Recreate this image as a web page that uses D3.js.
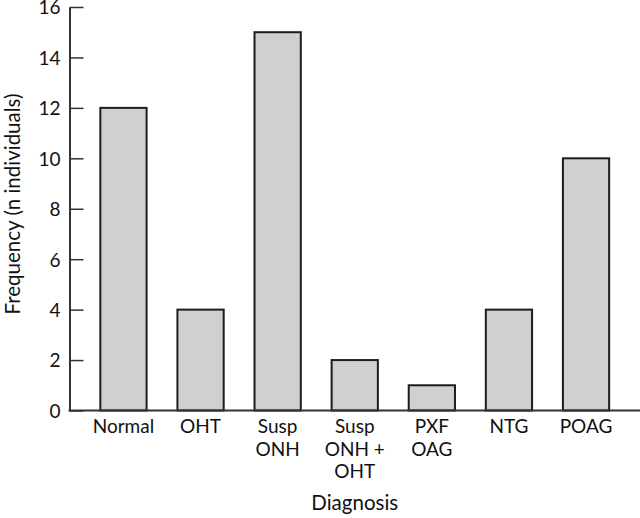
<!DOCTYPE html>
<html>
<head>
<meta charset="utf-8">
<script src="https://cdn.jsdelivr.net/npm/d3@7"></script>
<style>
  body { margin: 0; background: #fff; }
  svg { display: block; font-family: Lato, "Noto Sans", sans-serif; }
</style>
</head>
<body>
<svg id="chart" width="640" height="518"></svg>
<script>
// data
const categories = ["Normal", "OHT", "Susp ONH", "Susp ONH + OHT", "PXF OAG", "NTG", "POAG"];
const labelLines = [["Normal"], ["OHT"], ["Susp", "ONH"], ["Susp", "ONH +", "OHT"], ["PXF", "OAG"], ["NTG"], ["POAG"]];
const counts = [12, 4, 15, 2, 1, 4, 10];
const yTicks = [0, 2, 4, 6, 8, 10, 12, 14, 16];

const svg = d3.select("#chart");
const x0 = 69.5, x1 = 640, yTop = 7, yBottom = 410.5;

const x = d3.scaleBand()
    .domain(categories)
    .range([x0, x1])
    .paddingInner(0.4)
    .paddingOuter(0.4);

const y = d3.scaleLinear()
    .domain([0, 16])
    .range([yBottom, yTop]);

// bars
svg.append("g")
    .selectAll("rect")
    .data(categories)
    .join("rect")
    .attr("x", d => x(d))
    .attr("y", (d, i) => y(counts[i]))
    .attr("width", x.bandwidth())
    .attr("height", (d, i) => yBottom - y(counts[i]))
    .attr("fill", "#d0d0d0")
    .attr("stroke", "#1c1c1c")
    .attr("stroke-width", 2);

// y axis, ticks point into the plot
const yAxis = svg.append("g")
    .attr("transform", "translate(" + x0 + ",0)")
    .call(d3.axisLeft(y).tickValues(yTicks).tickSizeInner(-14).tickSizeOuter(0).tickPadding(9));
yAxis.select(".domain").attr("stroke", "#333").attr("stroke-width", 2);
yAxis.selectAll(".tick line").attr("stroke", "#333").attr("stroke-width", 1.5);
yAxis.selectAll(".tick text")
    .attr("font-size", 19)
    .attr("font-family", "Lato, sans-serif")
    .attr("dy", "0.36em")
    .attr("fill", "#111");

// x axis line
svg.append("line")
    .attr("x1", x0 - 1).attr("x2", x1)
    .attr("y1", yBottom).attr("y2", yBottom)
    .attr("stroke", "#333")
    .attr("stroke-width", 2);

// category labels
const xl = svg.append("g")
    .selectAll("text")
    .data(categories)
    .join("text")
    .attr("x", d => x(d) + x.bandwidth() / 2)
    .attr("y", 433)
    .attr("text-anchor", "middle")
    .attr("font-size", 19)
    .attr("fill", "#111");
xl.selectAll("tspan")
    .data((d, i) => labelLines[i])
    .join("tspan")
    .attr("x", function () { return d3.select(this.parentNode).attr("x"); })
    .attr("dy", (d, i) => i === 0 ? 0 : 22.5)
    .text(d => d);

// axis titles
svg.append("text")
    .attr("x", (x0 + x1) / 2)
    .attr("y", 510)
    .attr("text-anchor", "middle")
    .attr("font-size", 20.5)
    .attr("fill", "#111")
    .text("Diagnosis");

svg.append("text")
    .attr("transform", "translate(20,204) rotate(-90)")
    .attr("text-anchor", "middle")
    .attr("font-size", 20.5)
    .attr("fill", "#111")
    .text("Frequency (n individuals)");
</script>
</body>
</html>
